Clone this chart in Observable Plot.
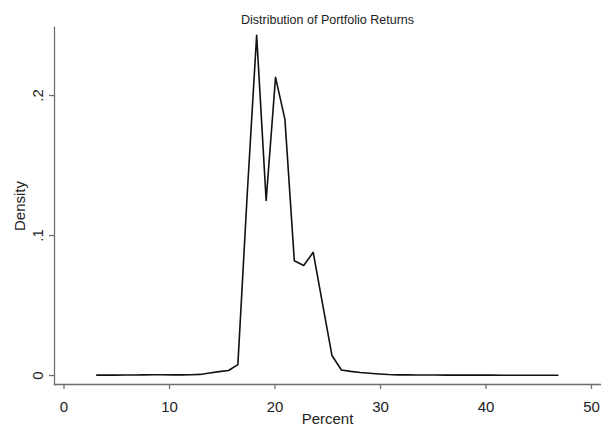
<!DOCTYPE html>
<html>
<head>
<meta charset="utf-8">
<script src="https://cdn.jsdelivr.net/npm/d3@7"></script>
<script src="https://cdn.jsdelivr.net/npm/@observablehq/plot@0.6"></script>
<style>
  html, body { margin: 0; padding: 0; background: #fff; }
  svg { font-family: "Liberation Sans", Arial, sans-serif; }
</style>
</head>
<body>
<div id="chart"></div>
<script>
const titleText = "Distribution of Portfolio Returns";
const xLabel = "Percent";
const yLabel = "Density";
const xTicks = [0, 10, 20, 30, 40, 50];
const yTicks = [0, 0.1, 0.2];
const yTickLabels = ["0", ".1", ".2"];

const percent = [
  3.10, 3.99, 4.88, 5.78, 6.67, 7.56, 8.45, 9.34, 10.24, 11.13,
  12.02, 12.91, 13.80, 14.70, 15.59, 16.48, 17.37, 18.26, 19.16, 20.05,
  20.94, 21.83, 22.72, 23.62, 24.51, 25.40, 26.29, 27.18, 28.08, 28.97,
  29.86, 30.75, 31.64, 32.54, 33.43, 34.32, 35.21, 36.10, 37.00, 37.89,
  38.78, 39.67, 40.56, 41.46, 42.35, 43.24, 44.13, 45.02, 45.92, 46.81
];
const density = [
  0.0003, 0.0003, 0.0003, 0.0004, 0.0004, 0.0005, 0.0006, 0.0006, 0.0005, 0.0005,
  0.0006, 0.0008, 0.0018, 0.0028, 0.0036, 0.0078, 0.130, 0.243, 0.125, 0.213,
  0.183, 0.082, 0.0786, 0.088, 0.051, 0.0143, 0.0040, 0.0030, 0.0022, 0.0016,
  0.0011, 0.0007, 0.0005, 0.0005, 0.0004, 0.0004, 0.0004, 0.0003, 0.0003, 0.0003,
  0.0003, 0.0003, 0.0003, 0.0002, 0.0002, 0.0002, 0.0002, 0.0002, 0.0002, 0.0002
];

const rows = percent.map((p, i) => ({percent: p, density: density[i]}));
const axisColor = "#6e6e6e";
const textColor = "#222";

const chart = Plot.plot({
  width: 601,
  height: 428,
  marginLeft: 54,
  marginRight: 1,
  marginTop: 27,
  marginBottom: 44,
  style: {fontFamily: "'Liberation Sans', Arial, sans-serif", background: "#fff"},
  x: {domain: [-0.9, 50.85]},
  y: {domain: [-0.0064, 0.2486]},
  marks: [
    Plot.frame({anchor: "left", stroke: axisColor, strokeWidth: 1.3}),
    Plot.frame({anchor: "bottom", stroke: axisColor, strokeWidth: 1.3}),
    Plot.axisX({ticks: xTicks, tickSize: 5, text: null, stroke: axisColor, strokeWidth: 1.3, label: null}),
    Plot.axisX({ticks: xTicks, tickSize: 0, tickPadding: 17, fontSize: 15, fill: textColor,
      label: xLabel, labelAnchor: "center", labelArrow: "none", labelOffset: 39}),
    Plot.axisY({ticks: yTicks, tickSize: 5, text: null, stroke: axisColor, strokeWidth: 1.3, label: null}),
    Plot.axisY({ticks: yTicks, tickSize: 0, tickPadding: 12, fontSize: 15, fill: textColor,
      tickRotate: -90, tickFormat: (d) => yTickLabels[yTicks.indexOf(d)],
      label: yLabel, labelAnchor: "center", labelArrow: "none", labelOffset: 40}),
    Plot.line(rows, {x: "percent", y: "density", stroke: "#111", strokeWidth: 1.6}),
    Plot.text([titleText], {frameAnchor: "top", dy: -12.5, fontSize: 12.5, fill: textColor})
  ]
});
document.getElementById("chart").appendChild(chart);
</script>
</body>
</html>
